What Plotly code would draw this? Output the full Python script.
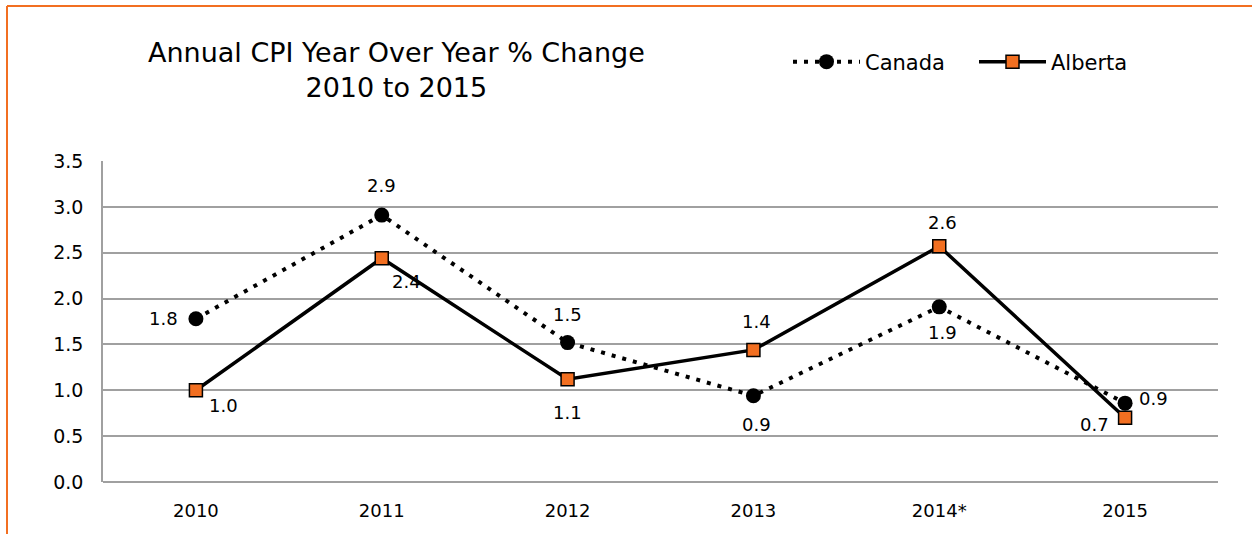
import plotly.graph_objects as go

years = ["2010", "2011", "2012", "2013", "2014*", "2015"]
canada = [1.78, 2.91, 1.52, 0.94, 1.91, 0.86]
alberta = [1.00, 2.44, 1.12, 1.44, 2.57, 0.70]
yticks = [0.0, 0.5, 1.0, 1.5, 2.0, 2.5, 3.0, 3.5]

# label offsets in pixels (dx, dy; dy positive = up)
canada_off = [(-32, 0), (0, 30), (0, 28), (3, -29), (3, -26), (28, 5)]
alberta_off = [(28, -15), (25, -23), (0, -33), (3, 28), (3, 24), (-31, -7)]

FONT = "DejaVu Sans"
ORANGE = "#F26F21"

fig = go.Figure()
fig.add_trace(go.Scatter(
    x=years, y=canada, name="Canada", mode="lines+markers",
    line=dict(color="black", width=4, dash="4px,7px"),
    marker=dict(symbol="circle", size=15, color="black"),
))
fig.add_trace(go.Scatter(
    x=years, y=alberta, name="Alberta", mode="lines+markers",
    line=dict(color="black", width=3.5),
    marker=dict(symbol="square", size=13, color=ORANGE, line=dict(color="black", width=1.5)),
))

W, H = 1252, 534
L, R, T, B = 103, 34, 161, 52
pw, ph = W - L - R, H - T - B

def px_x(p):
    return (p - L) / pw

def px_y(p):
    return (H - B - p) / ph

annotations = [dict(text="Annual CPI Year Over Year % Change<br>2010 to 2015",
                    xref="paper", yref="paper", x=px_x(396), y=px_y(70),
                    xanchor="center", yanchor="middle", showarrow=False,
                    font=dict(family=FONT, size=27, color="black"))]
for vals, offs in ((canada, canada_off), (alberta, alberta_off)):
    for i, (v, (dx, dy)) in enumerate(zip(vals, offs)):
        annotations.append(dict(x=i, y=v, xref="x", yref="y", text=f"{v:.1f}", showarrow=False,
                                xanchor="center", yanchor="middle", xshift=dx, yshift=dy,
                                font=dict(family=FONT, size=18, color="black")))

fig.update_layout(
    width=W, height=H,
    margin=dict(l=L, r=R, t=T, b=B),
    paper_bgcolor="white", plot_bgcolor="white",
    font=dict(family=FONT, size=18, color="black"),
    showlegend=True,
    legend=dict(orientation="h", x=px_x(788), y=px_y(62), xanchor="left", yanchor="middle",
                font=dict(family=FONT, size=21), itemwidth=67,
                entrywidth=104, entrywidthmode="pixels", bgcolor="rgba(0,0,0,0)"),
    xaxis=dict(type="category", categoryarray=years, categoryorder="array",
               range=[-0.5, 5.5], showgrid=False, showline=False,
               ticks="", ticklabelstandoff=16, tickfont=dict(family=FONT, size=18), fixedrange=True),
    yaxis=dict(range=[0, 3.5], tickvals=yticks, ticktext=[f"{v:.1f}" for v in yticks],
               showgrid=True, gridcolor="#A0A0A0", gridwidth=1.5,
               showline=True, linecolor="#A0A0A0", linewidth=1.5,
               zeroline=True, zerolinecolor="#A0A0A0", zerolinewidth=1.5,
               ticks="", ticklabelstandoff=14, tickfont=dict(family=FONT, size=19)),
    annotations=annotations,
    shapes=[
        dict(type="line", xref="paper", yref="paper", x0=px_x(7), x1=px_x(1260),
             y0=px_y(6), y1=px_y(6), line=dict(color=ORANGE, width=2)),
        dict(type="line", xref="paper", yref="paper", x0=px_x(7), x1=px_x(7),
             y0=px_y(6), y1=px_y(540), line=dict(color=ORANGE, width=2)),
    ],
)

fig.write_html("out.html", config={"displayModeBar": False},
               post_script="document.body.style.margin='0';")
